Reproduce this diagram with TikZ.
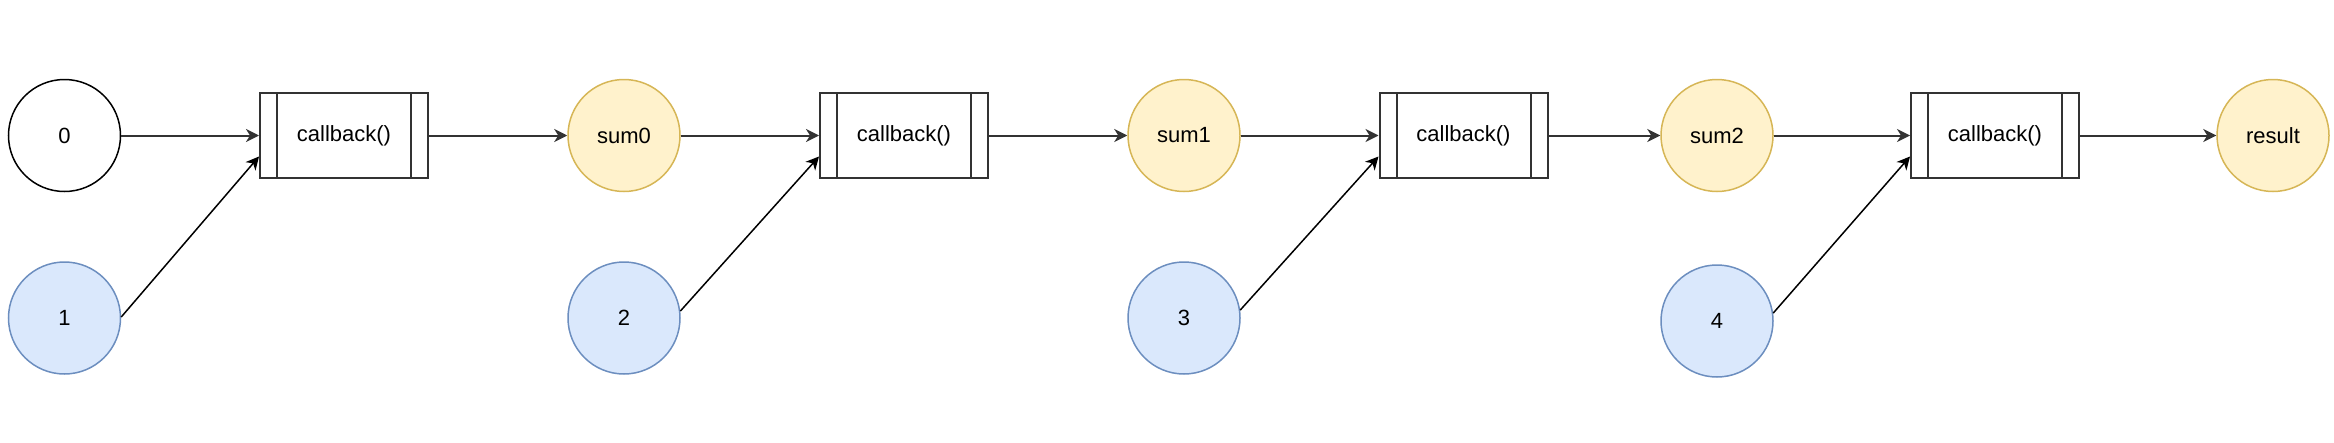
\documentclass[tikz,border=0pt]{standalone}
\usepackage{fontspec}
\setmainfont{Liberation Sans}
\usetikzlibrary{arrows.meta}
\definecolor{ylwfill}{HTML}{FFF2CC}
\definecolor{ylwdraw}{HTML}{D6B656}
\definecolor{blufill}{HTML}{DAE8FC}
\definecolor{bludraw}{HTML}{6C8EBF}
\definecolor{boxdraw}{HTML}{333333}
\begin{document}
\begin{tikzpicture}[x=1pt,y=-1pt,
  every node/.style={font=\fontsize{22}{26}\selectfont},
  valnode/.style={circle, minimum size=112pt, inner sep=0pt, line width=1.5pt},
  startval/.style={valnode, draw=black, fill=white},
  sumval/.style={valnode, draw=ylwdraw, fill=ylwfill},
  itemval/.style={valnode, draw=bludraw, fill=blufill},
  procbox/.style={rectangle, draw=boxdraw, fill=white, line width=2pt,
    minimum width=168pt, minimum height=85pt, inner sep=0pt,
    path picture={
      \draw[boxdraw, line width=2pt]
        ([xshift=17pt]path picture bounding box.north west) -- ([xshift=17pt]path picture bounding box.south west)
        ([xshift=-17pt]path picture bounding box.north east) -- ([xshift=-17pt]path picture bounding box.south east);
    }},
  flow/.style={draw=boxdraw, line width=2pt, -{Stealth[length=13pt,width=13pt,inset=4pt]}},
  feed/.style={draw=black, line width=1.5pt, -{Stealth[length=13pt,width=13pt,inset=4pt]}}
]
\useasboundingbox (0,0) rectangle (2334,442);

\node[startval] (n0) at (64.5,135.5) {0};
\node[itemval] (n1) at (64.5,318) {1};
\node[procbox] (b1) at (344,135.5) {callback()};

\node[sumval] (s0) at (624,135.5) {sum0};
\node[itemval] (n2) at (624,318) {2};
\node[procbox] (b2) at (904,135.5) {callback()};

\node[sumval] (s1) at (1184,135.5) {sum1};
\node[itemval] (n3) at (1184,318) {3};
\node[procbox] (b3) at (1463.5,135.5) {callback()};

\node[sumval] (s2) at (1717,135.5) {sum2};
\node[itemval] (n4) at (1717,321) {4};
\node[procbox] (b4) at (1995,135.5) {callback()};

\node[sumval] (res) at (2273,135.5) {result};

\draw[flow] (n0.east) -- (b1.west);
\draw[flow] (b1.east) -- (s0.west);
\draw[flow] (s0.east) -- (b2.west);
\draw[flow] (b2.east) -- (s1.west);
\draw[flow] (s1.east) -- (b3.west);
\draw[flow] (b3.east) -- (s2.west);
\draw[flow] (s2.east) -- (b4.west);
\draw[flow] (b4.east) -- (res.west);

\draw[feed] (n1.1) -- ([yshift=-21pt]b1.west);
\draw[feed] (n2.7) -- ([yshift=-21pt]b2.west);
\draw[feed] (n3.8) -- ([yshift=-21pt]b3.west);
\draw[feed] (n4.8) -- ([yshift=-21pt]b4.west);
\end{tikzpicture}
\end{document}
